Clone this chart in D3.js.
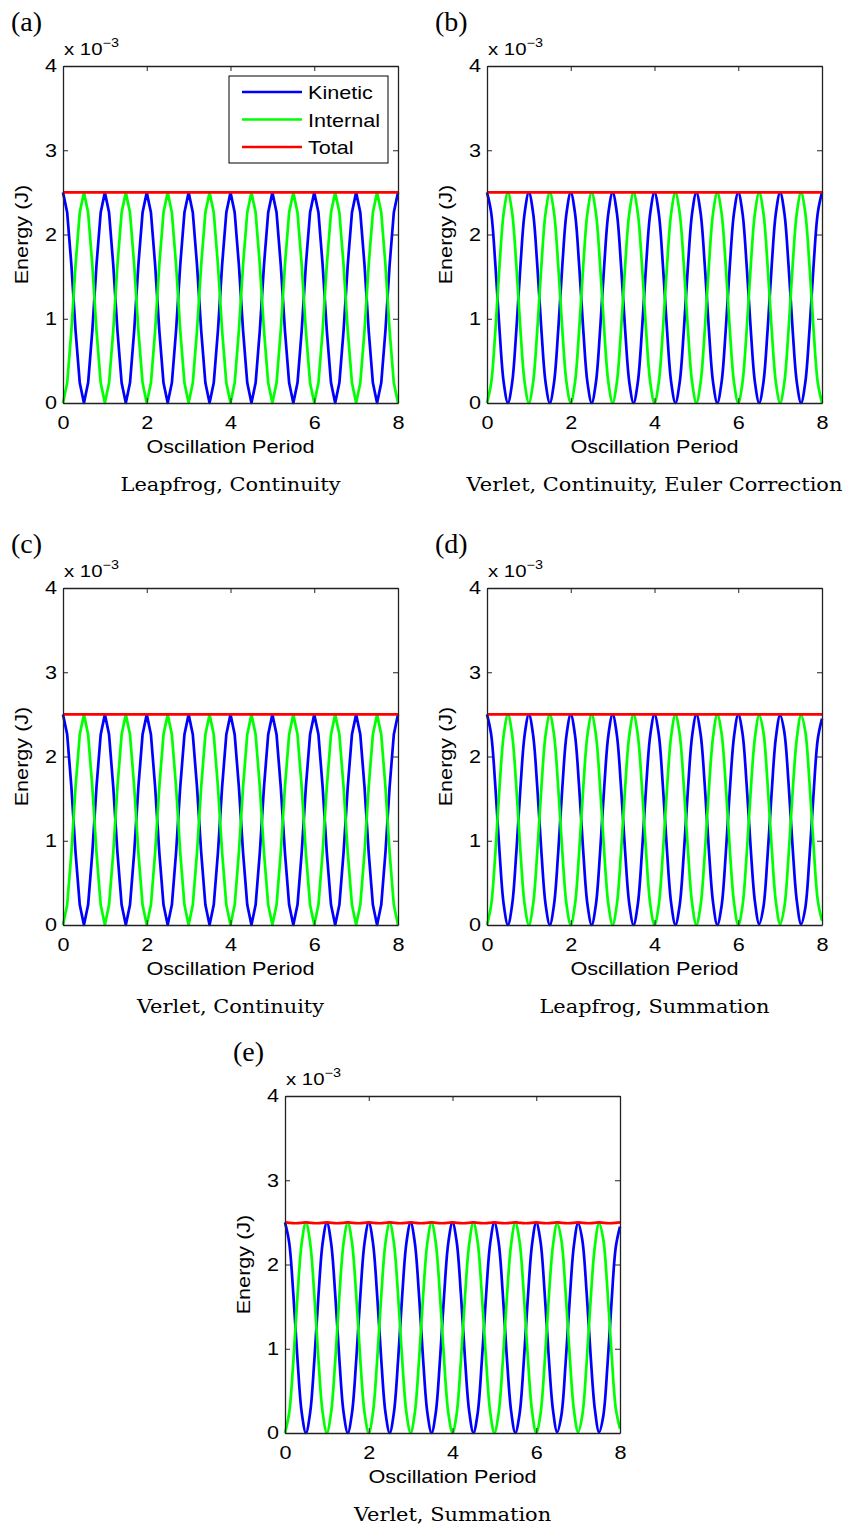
<!DOCTYPE html>
<html>
<head>
<meta charset="utf-8">
<script src="https://cdn.jsdelivr.net/npm/d3@7"></script>
<style>
  body { margin: 0; background: #fff; }
  svg text { fill: #000; }
</style>
</head>
<body>
<svg id="chart" width="858" height="1529"></svg>
<script>
// sample times (oscillation periods)
var periods = [
  0.0,0.1,0.2,0.3,0.4,0.5,0.6,0.7,0.8,0.9,
  1.0,1.1,1.2,1.3,1.4,1.5,1.6,1.7,1.8,1.9,
  2.0,2.1,2.2,2.3,2.4,2.5,2.6,2.7,2.8,2.9,
  3.0,3.1,3.2,3.3,3.4,3.5,3.6,3.7,3.8,3.9,
  4.0,4.1,4.2,4.3,4.4,4.5,4.6,4.7,4.8,4.9,
  5.0,5.1,5.2,5.3,5.4,5.5,5.6,5.7,5.8,5.9,
  6.0,6.1,6.2,6.3,6.4,6.5,6.6,6.7,6.8,6.9,
  7.0,7.1,7.2,7.3,7.4,7.5,7.6,7.7,7.8,7.9,
  8.0];

// energies in units of 1e-3 J, continuity runs
var kineticCont = [
  2.50,2.26,1.64,0.86,0.24,0.00,0.24,0.86,1.64,2.26,
  2.50,2.26,1.64,0.86,0.24,0.00,0.24,0.86,1.64,2.26,
  2.50,2.26,1.64,0.86,0.24,0.00,0.24,0.86,1.64,2.26,
  2.50,2.26,1.64,0.86,0.24,0.00,0.24,0.86,1.64,2.26,
  2.50,2.26,1.64,0.86,0.24,0.00,0.24,0.86,1.64,2.26,
  2.50,2.26,1.64,0.86,0.24,0.00,0.24,0.86,1.64,2.26,
  2.50,2.26,1.64,0.86,0.24,0.00,0.24,0.86,1.64,2.26,
  2.50,2.26,1.64,0.86,0.24,0.00,0.24,0.86,1.64,2.26,
  2.50];
var internalCont = [
  0.00,0.24,0.86,1.64,2.26,2.50,2.26,1.64,0.86,0.24,
  0.00,0.24,0.86,1.64,2.26,2.50,2.26,1.64,0.86,0.24,
  0.00,0.24,0.86,1.64,2.26,2.50,2.26,1.64,0.86,0.24,
  0.00,0.24,0.86,1.64,2.26,2.50,2.26,1.64,0.86,0.24,
  0.00,0.24,0.86,1.64,2.26,2.50,2.26,1.64,0.86,0.24,
  0.00,0.24,0.86,1.64,2.26,2.50,2.26,1.64,0.86,0.24,
  0.00,0.24,0.86,1.64,2.26,2.50,2.26,1.64,0.86,0.24,
  0.00,0.24,0.86,1.64,2.26,2.50,2.26,1.64,0.86,0.24,
  0.00];
var totalCont = [
  2.50,2.50,2.50,2.50,2.50,2.50,2.50,2.50,2.50,2.50,
  2.50,2.50,2.50,2.50,2.50,2.50,2.50,2.50,2.50,2.50,
  2.50,2.50,2.50,2.50,2.50,2.50,2.50,2.50,2.50,2.50,
  2.50,2.50,2.50,2.50,2.50,2.50,2.50,2.50,2.50,2.50,
  2.50,2.50,2.50,2.50,2.50,2.50,2.50,2.50,2.50,2.50,
  2.50,2.50,2.50,2.50,2.50,2.50,2.50,2.50,2.50,2.50,
  2.50,2.50,2.50,2.50,2.50,2.50,2.50,2.50,2.50,2.50,
  2.50,2.50,2.50,2.50,2.50,2.50,2.50,2.50,2.50,2.50,
  2.50];

// summation runs drift a little by the last period
var kineticSum = [
  2.50,2.26,1.64,0.86,0.24,0.00,0.24,0.86,1.64,2.26,
  2.50,2.26,1.64,0.86,0.24,0.00,0.24,0.86,1.64,2.26,
  2.50,2.26,1.64,0.86,0.24,0.00,0.24,0.86,1.64,2.26,
  2.50,2.26,1.64,0.86,0.24,0.00,0.24,0.86,1.64,2.26,
  2.50,2.27,1.65,0.87,0.25,0.00,0.23,0.85,1.62,2.25,
  2.50,2.27,1.66,0.88,0.26,0.00,0.22,0.83,1.61,2.24,
  2.50,2.28,1.67,0.89,0.27,0.01,0.21,0.82,1.59,2.23,
  2.49,2.29,1.69,0.91,0.28,0.01,0.20,0.80,1.57,2.21,
  2.45];
var internalSum = [
  0.00,0.24,0.86,1.64,2.26,2.50,2.26,1.64,0.86,0.24,
  0.00,0.24,0.86,1.64,2.26,2.50,2.26,1.64,0.86,0.24,
  0.00,0.24,0.86,1.64,2.26,2.50,2.26,1.64,0.86,0.24,
  0.00,0.24,0.86,1.64,2.26,2.50,2.26,1.64,0.86,0.24,
  0.00,0.23,0.85,1.63,2.25,2.50,2.27,1.65,0.88,0.25,
  0.00,0.23,0.84,1.62,2.24,2.50,2.28,1.67,0.89,0.26,
  0.00,0.22,0.83,1.61,2.23,2.49,2.29,1.68,0.91,0.27,
  0.01,0.21,0.81,1.59,2.22,2.49,2.30,1.70,0.93,0.29,
  0.05];
var totalSumE = [
  2.50,2.495,2.49,2.49,2.495,2.50,2.495,2.49,2.49,2.495,
  2.50,2.495,2.49,2.49,2.495,2.50,2.495,2.49,2.49,2.495,
  2.50,2.495,2.49,2.49,2.495,2.50,2.495,2.49,2.49,2.495,
  2.50,2.495,2.49,2.49,2.495,2.50,2.495,2.49,2.49,2.495,
  2.50,2.495,2.49,2.49,2.495,2.50,2.495,2.49,2.49,2.495,
  2.50,2.495,2.49,2.49,2.495,2.50,2.495,2.49,2.49,2.495,
  2.50,2.495,2.49,2.49,2.495,2.50,2.495,2.49,2.49,2.495,
  2.50,2.495,2.49,2.49,2.495,2.50,2.495,2.49,2.49,2.495,
  2.50];

var xTicks = [0, 2, 4, 6, 8];
var yTicks = [0, 1, 2, 3, 4];
var seriesNames = ['Kinetic', 'Internal', 'Total'];
var seriesColors = ['#0000ff', '#00ff00', '#ff0000'];

var panelLabels = ['(a)', '(b)', '(c)', '(d)', '(e)'];
var panelCaptions = ['Leapfrog, Continuity', 'Verlet, Continuity, Euler Correction',
                     'Verlet, Continuity', 'Leapfrog, Summation', 'Verlet, Summation'];
var panelKinetic = [kineticCont, kineticCont, kineticCont, kineticSum, kineticSum];
var panelInternal = [internalCont, internalCont, internalCont, internalSum, internalSum];
var panelTotal = [totalCont, totalCont, totalCont, totalCont, totalSumE];

// layout
var W = 335, H = 337;
var origins = [[63, 66], [487, 66], [63, 588], [487, 588], [285, 1096]];
var smooth = [false, true, false, true, true];
var SX = 1.2; // matlab text comes out wider than plain Arial

var svg = d3.select('#chart');
var x = d3.scaleLinear().domain([0, 8]).range([0, W]);
var y = d3.scaleLinear().domain([0, 4]).range([H, 0]);
var sans = 'Liberation Sans, Arial, sans-serif';

function sansText(g, tx, ty, size, anchor, extra) {
  return g.append('text')
    .attr('transform', 'translate(' + tx + ',' + ty + ')' + (extra || '') + ' scale(' + SX + ',1)')
    .attr('text-anchor', anchor).attr('font-family', sans).attr('font-size', size);
}

panelLabels.forEach(function(lab, i) {
  var g = svg.append('g').attr('transform', 'translate(' + origins[i][0] + ',' + origins[i][1] + ')');

  g.append('rect').attr('width', W).attr('height', H).attr('fill', '#fff');

  // curves
  var line = d3.line()
    .x(function(d, k) { return x(periods[k]); })
    .y(function(d) { return y(d); })
    .curve(smooth[i] ? d3.curveCatmullRom : d3.curveLinear);
  var sets = [panelKinetic[i], panelInternal[i], panelTotal[i]];
  sets.forEach(function(vals, s) {
    g.append('path').attr('d', line(vals))
      .attr('fill', 'none').attr('stroke', seriesColors[s])
      .attr('stroke-width', 2.7).attr('stroke-linejoin', 'round');
  });

  // axes, MATLAB style: ticks inside, box on
  var tl = -5, fmt = d3.format('d');
  g.append('g').attr('transform', 'translate(0,' + H + ')')
    .call(d3.axisBottom(x).tickValues(xTicks).tickFormat(fmt).tickSizeInner(tl).tickSizeOuter(0).tickPadding(13));
  g.append('g').call(d3.axisTop(x).tickValues(xTicks).tickSizeInner(tl).tickSizeOuter(0).tickFormat(''));
  g.append('g').attr('class', 'yax')
    .call(d3.axisLeft(y).tickValues(yTicks).tickFormat(fmt).tickSizeInner(tl).tickSizeOuter(0).tickPadding(5));
  g.append('g').attr('transform', 'translate(' + W + ',0)')
    .call(d3.axisRight(y).tickValues(yTicks).tickSizeInner(tl).tickSizeOuter(0).tickFormat(''));
  g.selectAll('.domain').attr('stroke', '#222').attr('stroke-width', 1.3);
  g.selectAll('.tick line').attr('stroke', '#222');
  g.selectAll('.tick text').attr('font-family', sans).attr('font-size', 18).attr('fill', '#000')
    .attr('transform', 'scale(' + SX + ',1)');

  // exponent
  var ex = sansText(g, 1, -11, 17, 'start');
  ex.append('tspan').text('x 10');
  ex.append('tspan').attr('dy', -8).attr('font-size', 12).text('\u22123');

  sansText(g, W / 2, H + 50, 18, 'middle').text('Oscillation Period');
  sansText(g, -35, H / 2, 18, 'middle', ' rotate(-90)').text('Energy (J)');

  g.append('text').attr('transform', 'translate(' + (W / 2) + ',' + (H + 88) + ') scale(1.1,1)')
    .attr('text-anchor', 'middle')
    .attr('font-family', 'DejaVu Serif, serif').attr('font-size', 19).text(panelCaptions[i]);
  g.append('text').attr('x', -52).attr('y', -35)
    .attr('font-family', 'Liberation Serif, Times New Roman, serif').attr('font-size', 28).text(lab);

  // legend only in first panel
  if (i === 0) {
    var lg = g.append('g').attr('transform', 'translate(166,10)');
    lg.append('rect').attr('width', 159).attr('height', 87)
      .attr('fill', '#fff').attr('stroke', '#000').attr('stroke-width', 1);
    seriesNames.forEach(function(n, s) {
      var yy = 16 + s * 27.5;
      lg.append('line').attr('x1', 13).attr('x2', 73).attr('y1', yy).attr('y2', yy)
        .attr('stroke', seriesColors[s]).attr('stroke-width', 2.7);
      sansText(lg, 79, yy + 7, 18, 'start').text(n);
    });
  }
});
</script>
</body>
</html>
